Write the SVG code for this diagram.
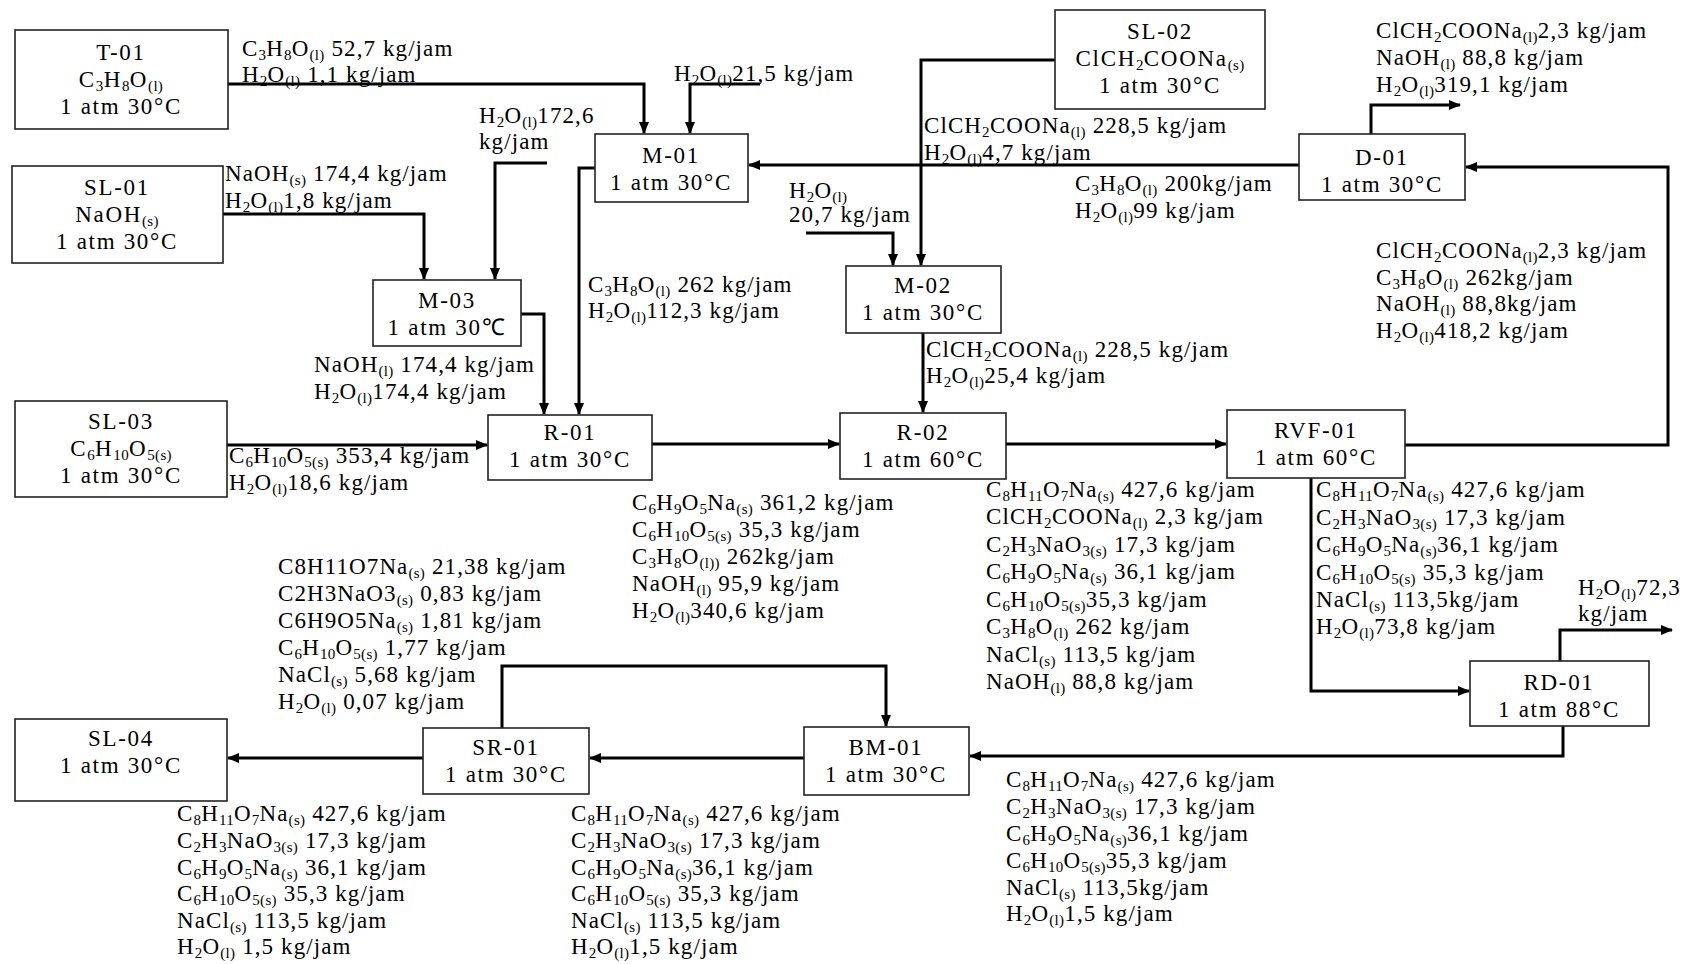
<svg xmlns="http://www.w3.org/2000/svg" width="1697" height="964" viewBox="0 0 1697 964">
<style>
text{font-family:"Liberation Serif","Times New Roman",serif;font-size:23px;letter-spacing:1.1px;fill:#000}
.s{font-size:15px;baseline-shift:-4px;letter-spacing:0.3px}
.c{text-anchor:middle;letter-spacing:1.7px}
.box{fill:#fff;stroke:#222;stroke-width:1.6}
.ln{fill:none;stroke:#000;stroke-width:3}
.ar{marker-end:url(#ah)}
</style>
<defs>
<marker id="ah" markerUnits="userSpaceOnUse" markerWidth="12" markerHeight="10" refX="11" refY="5" orient="auto"><path d="M0,0 L12,5 L0,10 z" fill="#000"/></marker>
</defs>
<rect width="1697" height="964" fill="#fff"/>

<g id="connectors">
<path class="ln ar" d="M228,84 H644 V133"/>
<path class="ln ar" d="M760,84 H690 V133"/>
<path class="ln ar" d="M547,163 H495 V279"/>
<path class="ln ar" d="M223,214 H424 V279"/>
<path class="ln ar" d="M521,314 H544 V414"/>
<path class="ln ar" d="M595,168 H579 V414"/>
<path class="ln ar" d="M1299,165 H749"/>
<path class="ln ar" d="M1055,60 H921 V265"/>
<path class="ln ar" d="M806,233 H893 V265"/>
<path class="ln ar" d="M923,333 V412"/>
<path class="ln ar" d="M652,444 H839"/>
<path class="ln ar" d="M227,445 H487"/>
<path class="ln ar" d="M1006,444 H1226"/>
<path class="ln ar" d="M1405,445 H1668 V167 H1466"/>
<path class="ln ar" d="M1371,134 V105 H1460"/>
<path class="ln ar" d="M1311,478 V691 H1469"/>
<path class="ln ar" d="M1560,661 V630 H1672"/>
<path class="ln ar" d="M1563,726 V756 H970"/>
<path class="ln ar" d="M804,758 H590"/>
<path class="ln ar" d="M423,758 H228"/>
<path class="ln ar" d="M502,728 V666 H886 V726"/>
</g>

<g id="T-01"><rect class="box" x="15" y="30" width="213" height="99"/>
<text class="c" x="121" y="60">T-01</text>
<text class="c" x="121" y="87">C<tspan class="s">3</tspan>H<tspan class="s">8</tspan>O<tspan class="s">(l)</tspan></text>
<text class="c" x="121" y="114">1 atm 30°C</text></g>

<g id="SL-01"><rect class="box" x="12" y="166" width="211" height="97"/>
<text class="c" x="117" y="195">SL-01</text>
<text class="c" x="117" y="222">NaOH<tspan class="s">(s)</tspan></text>
<text class="c" x="117" y="249">1 atm 30°C</text></g>

<g id="SL-02"><rect class="box" x="1055" y="10" width="210" height="99"/>
<text class="c" x="1160" y="39">SL-02</text>
<text class="c" x="1160" y="66">ClCH<tspan class="s">2</tspan>COONa<tspan class="s">(s)</tspan></text>
<text class="c" x="1160" y="93">1 atm 30°C</text></g>

<g id="SL-03"><rect class="box" x="15" y="401" width="212" height="96"/>
<text class="c" x="121" y="429">SL-03</text>
<text class="c" x="121" y="456">C<tspan class="s">6</tspan>H<tspan class="s">10</tspan>O<tspan class="s">5(s)</tspan></text>
<text class="c" x="121" y="483">1 atm 30°C</text></g>

<g id="SL-04"><rect class="box" x="15" y="719" width="212" height="82"/>
<text class="c" x="121" y="746">SL-04</text>
<text class="c" x="121" y="773">1 atm 30°C</text></g>

<g id="M-01"><rect class="box" x="595" y="134" width="153" height="68"/>
<text class="c" x="671" y="163">M-01</text>
<text class="c" x="671" y="190">1 atm 30°C</text></g>

<g id="M-03"><rect class="box" x="373" y="280" width="148" height="66"/>
<text class="c" x="447" y="308">M-03</text>
<text class="c" x="447" y="335">1 atm 30℃</text></g>

<g id="M-02"><rect class="box" x="846" y="266" width="155" height="67"/>
<text class="c" x="923" y="293">M-02</text>
<text class="c" x="923" y="320">1 atm 30°C</text></g>

<g id="R-01"><rect class="box" x="488" y="415" width="164" height="65"/>
<text class="c" x="570" y="440">R-01</text>
<text class="c" x="570" y="467">1 atm 30°C</text></g>

<g id="R-02"><rect class="box" x="840" y="413" width="166" height="66"/>
<text class="c" x="923" y="440">R-02</text>
<text class="c" x="923" y="467">1 atm 60°C</text></g>

<g id="RVF-01"><rect class="box" x="1227" y="410" width="178" height="68"/>
<text class="c" x="1316" y="438">RVF-01</text>
<text class="c" x="1316" y="465">1 atm 60°C</text></g>

<g id="D-01"><rect class="box" x="1299" y="134" width="166" height="66"/>
<text class="c" x="1382" y="165">D-01</text>
<text class="c" x="1382" y="192">1 atm 30°C</text></g>

<g id="RD-01"><rect class="box" x="1470" y="661" width="179" height="65"/>
<text class="c" x="1559" y="690">RD-01</text>
<text class="c" x="1559" y="717">1 atm 88°C</text></g>

<g id="BM-01"><rect class="box" x="804" y="727" width="165" height="68"/>
<text class="c" x="886" y="755">BM-01</text>
<text class="c" x="886" y="782">1 atm 30°C</text></g>

<g id="SR-01"><rect class="box" x="423" y="728" width="166" height="66"/>
<text class="c" x="506" y="755">SR-01</text>
<text class="c" x="506" y="782">1 atm 30°C</text></g>

<g id="labels">
<text x="242" y="56">C<tspan class="s">3</tspan>H<tspan class="s">8</tspan>O<tspan class="s">(l)</tspan> 52,7 kg/jam</text>
<text x="242" y="82">H<tspan class="s">2</tspan>O<tspan class="s">(l)</tspan> 1,1 kg/jam</text>

<text x="674" y="81">H<tspan class="s">2</tspan>O<tspan class="s">(l)</tspan>21,5 kg/jam</text>

<text x="479" y="123">H<tspan class="s">2</tspan>O<tspan class="s">(l)</tspan>172,6</text>
<text x="479" y="149">kg/jam</text>

<text x="225" y="181">NaOH<tspan class="s">(s)</tspan> 174,4 kg/jam</text>
<text x="225" y="208">H<tspan class="s">2</tspan>O<tspan class="s">(l)</tspan>1,8 kg/jam</text>

<text x="314" y="372">NaOH<tspan class="s">(l)</tspan> 174,4 kg/jam</text>
<text x="314" y="399">H<tspan class="s">2</tspan>O<tspan class="s">(l)</tspan>174,4 kg/jam</text>

<text x="588" y="292">C<tspan class="s">3</tspan>H<tspan class="s">8</tspan>O<tspan class="s">(l)</tspan> 262 kg/jam</text>
<text x="588" y="318">H<tspan class="s">2</tspan>O<tspan class="s">(l)</tspan>112,3 kg/jam</text>

<text x="924" y="133">ClCH<tspan class="s">2</tspan>COONa<tspan class="s">(l)</tspan> 228,5 kg/jam</text>
<text x="924" y="160">H<tspan class="s">2</tspan>O<tspan class="s">(l)</tspan>4,7 kg/jam</text>

<text x="1075" y="191">C<tspan class="s">3</tspan>H<tspan class="s">8</tspan>O<tspan class="s">(l)</tspan> 200kg/jam</text>
<text x="1075" y="218">H<tspan class="s">2</tspan>O<tspan class="s">(l)</tspan>99 kg/jam</text>

<text x="789" y="198">H<tspan class="s">2</tspan>O<tspan class="s">(l)</tspan></text>
<text x="789" y="222">20,7 kg/jam</text>

<text x="926" y="357">ClCH<tspan class="s">2</tspan>COONa<tspan class="s">(l)</tspan> 228,5 kg/jam</text>
<text x="926" y="383">H<tspan class="s">2</tspan>O<tspan class="s">(l)</tspan>25,4 kg/jam</text>

<text x="229" y="463">C<tspan class="s">6</tspan>H<tspan class="s">10</tspan>O<tspan class="s">5(s)</tspan> 353,4 kg/jam</text>
<text x="229" y="490">H<tspan class="s">2</tspan>O<tspan class="s">(l)</tspan>18,6 kg/jam</text>

<text x="632" y="510">C<tspan class="s">6</tspan>H<tspan class="s">9</tspan>O<tspan class="s">5</tspan>Na<tspan class="s">(s)</tspan> 361,2 kg/jam</text>
<text x="632" y="537">C<tspan class="s">6</tspan>H<tspan class="s">10</tspan>O<tspan class="s">5(s)</tspan> 35,3 kg/jam</text>
<text x="632" y="564">C<tspan class="s">3</tspan>H<tspan class="s">8</tspan>O<tspan class="s">(l))</tspan> 262kg/jam</text>
<text x="632" y="591">NaOH<tspan class="s">(l)</tspan> 95,9 kg/jam</text>
<text x="632" y="618">H<tspan class="s">2</tspan>O<tspan class="s">(l)</tspan>340,6 kg/jam</text>

<text x="986" y="497">C<tspan class="s">8</tspan>H<tspan class="s">11</tspan>O<tspan class="s">7</tspan>Na<tspan class="s">(s)</tspan> 427,6 kg/jam</text>
<text x="986" y="524">ClCH<tspan class="s">2</tspan>COONa<tspan class="s">(l)</tspan> 2,3 kg/jam</text>
<text x="986" y="552">C<tspan class="s">2</tspan>H<tspan class="s">3</tspan>NaO<tspan class="s">3(s)</tspan> 17,3 kg/jam</text>
<text x="986" y="579">C<tspan class="s">6</tspan>H<tspan class="s">9</tspan>O<tspan class="s">5</tspan>Na<tspan class="s">(s)</tspan> 36,1 kg/jam</text>
<text x="986" y="607">C<tspan class="s">6</tspan>H<tspan class="s">10</tspan>O<tspan class="s">5(s)</tspan>35,3 kg/jam</text>
<text x="986" y="634">C<tspan class="s">3</tspan>H<tspan class="s">8</tspan>O<tspan class="s">(l)</tspan> 262 kg/jam</text>
<text x="986" y="662">NaCl<tspan class="s">(s)</tspan> 113,5 kg/jam</text>
<text x="986" y="689">NaOH<tspan class="s">(l)</tspan> 88,8 kg/jam</text>

<text x="1376" y="38">ClCH<tspan class="s">2</tspan>COONa<tspan class="s">(l)</tspan>2,3 kg/jam</text>
<text x="1376" y="65">NaOH<tspan class="s">(l)</tspan> 88,8 kg/jam</text>
<text x="1376" y="92">H<tspan class="s">2</tspan>O<tspan class="s">(l)</tspan>319,1 kg/jam</text>

<text x="1376" y="258">ClCH<tspan class="s">2</tspan>COONa<tspan class="s">(l)</tspan>2,3 kg/jam</text>
<text x="1376" y="285">C<tspan class="s">3</tspan>H<tspan class="s">8</tspan>O<tspan class="s">(l)</tspan> 262kg/jam</text>
<text x="1376" y="311">NaOH<tspan class="s">(l)</tspan> 88,8kg/jam</text>
<text x="1376" y="338">H<tspan class="s">2</tspan>O<tspan class="s">(l)</tspan>418,2 kg/jam</text>

<text x="1316" y="497">C<tspan class="s">8</tspan>H<tspan class="s">11</tspan>O<tspan class="s">7</tspan>Na<tspan class="s">(s)</tspan> 427,6 kg/jam</text>
<text x="1316" y="525">C<tspan class="s">2</tspan>H<tspan class="s">3</tspan>NaO<tspan class="s">3(s)</tspan> 17,3 kg/jam</text>
<text x="1316" y="552">C<tspan class="s">6</tspan>H<tspan class="s">9</tspan>O<tspan class="s">5</tspan>Na<tspan class="s">(s)</tspan>36,1 kg/jam</text>
<text x="1316" y="580">C<tspan class="s">6</tspan>H<tspan class="s">10</tspan>O<tspan class="s">5(s)</tspan> 35,3 kg/jam</text>
<text x="1316" y="607">NaCl<tspan class="s">(s)</tspan> 113,5kg/jam</text>
<text x="1316" y="634">H<tspan class="s">2</tspan>O<tspan class="s">(l)</tspan>73,8 kg/jam</text>

<text x="1578" y="595">H<tspan class="s">2</tspan>O<tspan class="s">(l)</tspan>72,3</text>
<text x="1578" y="621">kg/jam</text>

<text x="1006" y="787">C<tspan class="s">8</tspan>H<tspan class="s">11</tspan>O<tspan class="s">7</tspan>Na<tspan class="s">(s)</tspan> 427,6 kg/jam</text>
<text x="1006" y="814">C<tspan class="s">2</tspan>H<tspan class="s">3</tspan>NaO<tspan class="s">3(s)</tspan> 17,3 kg/jam</text>
<text x="1006" y="841">C<tspan class="s">6</tspan>H<tspan class="s">9</tspan>O<tspan class="s">5</tspan>Na<tspan class="s">(s)</tspan>36,1 kg/jam</text>
<text x="1006" y="868">C<tspan class="s">6</tspan>H<tspan class="s">10</tspan>O<tspan class="s">5(s)</tspan>35,3 kg/jam</text>
<text x="1006" y="895">NaCl<tspan class="s">(s)</tspan> 113,5kg/jam</text>
<text x="1006" y="921">H<tspan class="s">2</tspan>O<tspan class="s">(l)</tspan>1,5 kg/jam</text>

<text x="571" y="821">C<tspan class="s">8</tspan>H<tspan class="s">11</tspan>O<tspan class="s">7</tspan>Na<tspan class="s">(s)</tspan> 427,6 kg/jam</text>
<text x="571" y="848">C<tspan class="s">2</tspan>H<tspan class="s">3</tspan>NaO<tspan class="s">3(s)</tspan>  17,3 kg/jam</text>
<text x="571" y="875">C<tspan class="s">6</tspan>H<tspan class="s">9</tspan>O<tspan class="s">5</tspan>Na<tspan class="s">(s)</tspan>36,1 kg/jam</text>
<text x="571" y="901">C<tspan class="s">6</tspan>H<tspan class="s">10</tspan>O<tspan class="s">5(s)</tspan> 35,3 kg/jam</text>
<text x="571" y="928">NaCl<tspan class="s">(s)</tspan> 113,5 kg/jam</text>
<text x="571" y="954">H<tspan class="s">2</tspan>O<tspan class="s">(l)</tspan>1,5 kg/jam</text>

<text x="177" y="821">C<tspan class="s">8</tspan>H<tspan class="s">11</tspan>O<tspan class="s">7</tspan>Na<tspan class="s">(s)</tspan> 427,6 kg/jam</text>
<text x="177" y="848">C<tspan class="s">2</tspan>H<tspan class="s">3</tspan>NaO<tspan class="s">3(s)</tspan> 17,3 kg/jam</text>
<text x="177" y="875">C<tspan class="s">6</tspan>H<tspan class="s">9</tspan>O<tspan class="s">5</tspan>Na<tspan class="s">(s)</tspan> 36,1 kg/jam</text>
<text x="177" y="901">C<tspan class="s">6</tspan>H<tspan class="s">10</tspan>O<tspan class="s">5(s)</tspan> 35,3 kg/jam</text>
<text x="177" y="928">NaCl<tspan class="s">(s)</tspan> 113,5 kg/jam</text>
<text x="177" y="954">H<tspan class="s">2</tspan>O<tspan class="s">(l)</tspan> 1,5 kg/jam</text>

<text x="278" y="574">C8H11O7Na<tspan class="s">(s)</tspan> 21,38 kg/jam</text>
<text x="278" y="601">C2H3NaO3<tspan class="s">(s)</tspan> 0,83 kg/jam</text>
<text x="278" y="628">C6H9O5Na<tspan class="s">(s)</tspan> 1,81 kg/jam</text>
<text x="278" y="655">C<tspan class="s">6</tspan>H<tspan class="s">10</tspan>O<tspan class="s">5(s)</tspan> 1,77 kg/jam</text>
<text x="278" y="682">NaCl<tspan class="s">(s)</tspan> 5,68 kg/jam</text>
<text x="278" y="709">H<tspan class="s">2</tspan>O<tspan class="s">(l)</tspan> 0,07 kg/jam</text>
</g>
</svg>
